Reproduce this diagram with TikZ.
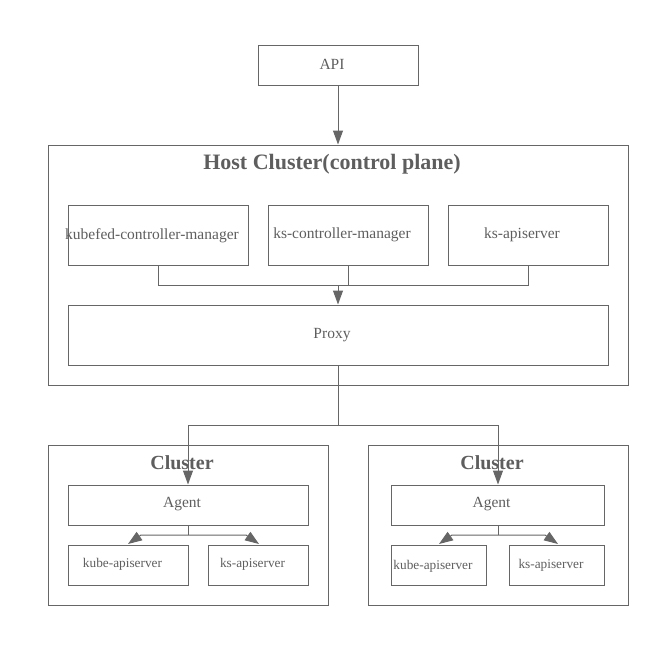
\documentclass[tikz,border=0pt]{standalone}
\usepackage{fontspec}
\setmainfont{Liberation Serif}
\usetikzlibrary{arrows.meta}
\definecolor{linegray}{HTML}{666666}
\definecolor{textgray}{HTML}{5E5E5E}
\tikzset{
  box/.style={draw=linegray, line width=1pt, inner sep=0pt},
  lbl/.style={text=textgray, font=\fontsize{15.5}{17}\selectfont, inner sep=0pt, xshift=-6pt},
  slbl/.style={text=textgray, font=\fontsize{13.3}{15}\selectfont, inner sep=0pt, xshift=-5.5pt},
  frame/.style={draw=linegray, line width=1pt, inner sep=0pt},
  title/.style={text=textgray, font=\fontsize{22}{24}\selectfont\bfseries, inner sep=0pt},
  ctitle/.style={text=textgray, font=\fontsize{20}{22}\selectfont\bfseries, inner sep=0pt},
  conn/.style={draw=linegray, line width=1pt},
  arr/.style={conn, -{Triangle[length=14pt,width=10pt]}},
}
\begin{document}
\begin{tikzpicture}[x=1pt,y=-1pt]
\useasboundingbox (0,0) rectangle (667,645);
% API
\node[box, minimum width=160pt, minimum height=40pt, label={[lbl,yshift=1pt]center:API}] (api) at (338,65) {};
% Host cluster
\node[frame, minimum width=580pt, minimum height=240pt] (host) at (338,265) {};
\node[title] (hosttitle) at (332,164) {Host Cluster(control plane)};
\node[box, minimum width=180pt, minimum height=60pt, label={[lbl,yshift=-1pt]center:kubefed-controller-manager}] (kfcm) at (158,235) {};
\node[box, minimum width=160pt, minimum height=60pt, label={[lbl]center:ks-controller-manager}] (kcm) at (348,235) {};
\node[box, minimum width=160pt, minimum height=60pt, label={[lbl]center:ks-apiserver}] (ksa) at (528,235) {};
\node[box, minimum width=540pt, minimum height=60pt, label={[lbl]center:Proxy}] (proxy) at (338,335) {};
\coordinate (join1) at (338,285);
\coordinate (join2) at (338,425);
% Left cluster
\node[frame, minimum width=280pt, minimum height=160pt] (c1) at (188,525) {};
\node[ctitle] (c1title) at (182,463) {Cluster};
\node[box, minimum width=240pt, minimum height=40pt, label={[lbl,yshift=1pt]center:Agent}] (agent1) at (188,505) {};
\node[box, minimum width=120pt, minimum height=40pt, label={[slbl,yshift=1pt]center:kube-apiserver}] (kube1) at (128,565) {};
\node[box, minimum width=100pt, minimum height=40pt, label={[slbl,yshift=1pt]center:ks-apiserver}] (ks1) at (258,565) {};
\coordinate (a1j) at (188,535);
\coordinate (a1l) at (141,535);
\coordinate (a1r) at (246,535);
\coordinate (a1lt) at (128,544);
\coordinate (a1rt) at (259,544);
% Right cluster
\node[frame, minimum width=260pt, minimum height=160pt] (c2) at (498,525) {};
\node[ctitle] (c2title) at (492,463) {Cluster};
\node[box, minimum width=213pt, minimum height=40pt, label={[lbl,yshift=1pt]center:Agent}] (agent2) at (497.5,505) {};
\node[box, minimum width=95pt, minimum height=40pt, label={[slbl,yshift=-1.5pt]center:kube-apiserver}] (kube2) at (438.5,565) {};
\node[box, minimum width=95pt, minimum height=40pt, label={[slbl]center:ks-apiserver}] (ks2) at (556.5,565) {};
\coordinate (a2j) at (498,535);
\coordinate (a2l) at (452,535);
\coordinate (a2r) at (545,535);
\coordinate (a2lt) at (439,544);
\coordinate (a2rt) at (558,544);
% connectors
\draw[arr] (api.south) -- (host.north);
\draw[conn] (kfcm.south) |- (join1);
\draw[conn] (ksa.south) |- (join1);
\draw[conn] (kcm.south) -- (kcm.south |- join1);
\draw[arr] (join1) -- (proxy.north);
\draw[conn] (proxy.south) -- (join2);
\draw[arr] (join2) -| (agent1.north);
\draw[arr] (join2) -| (a2j |- agent2.north);
\draw[conn] (agent1.south) -- (a1j);
\draw[arr] (a1j) -- (a1l) -- (a1lt);
\draw[arr] (a1j) -- (a1r) -- (a1rt);
\draw[conn] (agent2.south -| a2j) -- (a2j);
\draw[arr] (a2j) -- (a2l) -- (a2lt);
\draw[arr] (a2j) -- (a2r) -- (a2rt);
\end{tikzpicture}
\end{document}
